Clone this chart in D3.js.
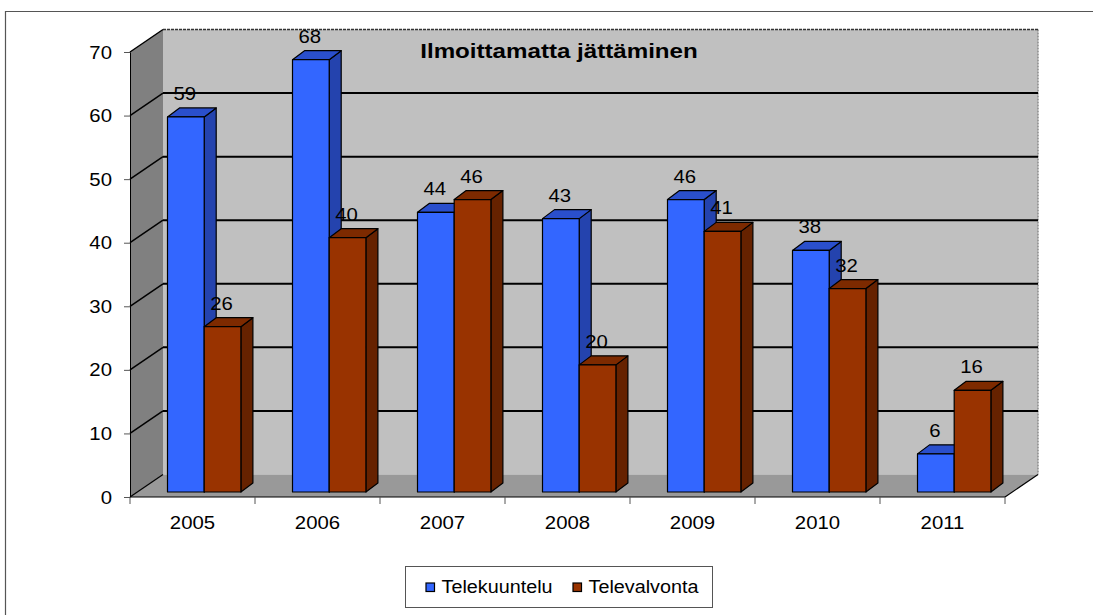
<!DOCTYPE html>
<html><head><meta charset="utf-8">
<script src="https://cdn.jsdelivr.net/npm/d3@7"></script>
<style>body{margin:0;background:#fff}svg{display:block}text{font-family:"Liberation Sans",Arial,sans-serif;}</style>
</head><body>
<svg id="c" width="1093" height="615"></svg>
<script>
const years = ["2005","2006","2007","2008","2009","2010","2011"];
const seriesNames = ["Telekuuntelu","Televalvonta"];
const telekuuntelu = [59,68,44,43,46,38,6];
const televalvonta = [26,40,46,20,41,32,16];
const yTicks = [0,10,20,30,40,50,60,70];
const title = "Ilmoittamatta jättäminen";

const svg = d3.select("#c");
const colors = {
  Telekuuntelu:{front:"#3366FF", side:"#2443AE", top:"#2A4FCC"},
  Televalvonta:{front:"#993300", side:"#662200", top:"#7D2A00"}
};
const DX = 33, DY = -22.5;         // wall depth
const ZX0 = 7.5, ZY0 = -5;         // bar front offset in depth
const BDX = 12, BDY = -9;          // bar depth
const SX = 1.1;

const x = d3.scaleBand().domain(years).range([130,1005]).padding(0);
const y = d3.scaleLinear().domain([0,70]).range([497,52]);
const inner = d3.scaleBand().domain(seriesNames).range([30,103.4]).padding(0);

function txt(g, tx, ty, s, opts={}){
  const t = g.append("text").attr("transform",`translate(${tx},${ty}) scale(${opts.sx||SX},1)`)
    .attr("font-size", opts.size||18.5).attr("fill","#000")
    .attr("text-anchor", opts.anchor||"middle").text(s);
  if(opts.bold) t.attr("font-weight","bold");
  return t;
}

// frame
svg.append("path").attr("d","M5.5,615 L5.5,11.5 L1093,11.5").attr("fill","none").attr("stroke","#555").attr("stroke-width",1.2);

const x0 = x.range()[0], x1 = x.range()[1], yb = y(0), yt = y(70);
// back wall
svg.append("polygon").attr("points",[[x0+DX,yb+DY],[x1+DX,yb+DY],[x1+DX,yt+DY],[x0+DX,yt+DY]].join(" "))
  .attr("fill","#C0C0C0");
// left wall
svg.append("polygon").attr("points",[[x0,yb],[x0+DX,yb+DY],[x0+DX,yt+DY],[x0,yt]].join(" "))
  .attr("fill","#808080");
// floor
svg.append("polygon").attr("points",[[x0,yb],[x1,yb],[x1+DX,yb+DY],[x0+DX,yb+DY]].join(" "))
  .attr("fill","#999999");
// right edge of back wall
svg.append("line").attr("x1",x1+DX).attr("x2",x1+DX).attr("y1",yt+DY).attr("y2",yb+DY)
  .attr("stroke","#8a8a8a").attr("stroke-width",1.5).attr("stroke-dasharray","2,1");
// floor edges
svg.append("line").attr("x1",x1).attr("y1",yb).attr("x2",x1+DX).attr("y2",yb+DY).attr("stroke","#000").attr("stroke-width",1.2);
svg.append("line").attr("x1",x0).attr("y1",yb).attr("x2",x0+DX).attr("y2",yb+DY).attr("stroke","#000").attr("stroke-width",1.2);

// gridlines
yTicks.filter(v=>v>0).forEach(v=>{
  svg.append("line").attr("x1",x0+DX).attr("x2",x1+DX).attr("y1",y(v)+DY).attr("y2",y(v)+DY)
    .attr("stroke", v===70 ? "#333" : "#000").attr("stroke-width", v===70?1.5:2)
    .attr("stroke-dasharray", v===70 ? "3,1" : null);
  svg.append("line").attr("x1",x0).attr("x2",x0+DX).attr("y1",y(v)).attr("y2",y(v)+DY)
    .attr("stroke","#000").attr("stroke-width",1.5);
});

// axes
const yAxis = svg.append("g").attr("transform",`translate(${x0},0)`)
  .call(d3.axisLeft(y).tickValues(yTicks).tickSize(6).tickPadding(12).tickSizeOuter(0));
yAxis.select(".domain").attr("stroke","#000");
yAxis.selectAll(".tick line").attr("stroke","#555");
yAxis.selectAll(".tick text").remove();
yTicks.forEach(v=>{ txt(svg, x0-18, y(v)+6.5, String(v), {anchor:"end"}); });

svg.append("line").attr("x1",x0).attr("x2",x1).attr("y1",yb).attr("y2",yb).attr("stroke","#000").attr("stroke-width",1.2);
const bounds = years.map(d=>x(d)).concat([x1]);
bounds.forEach(b=>{
  svg.append("line").attr("x1",b).attr("x2",b).attr("y1",yb).attr("y2",yb+7).attr("stroke","#555");
});
years.forEach(d=>{ txt(svg, x(d)+x.bandwidth()/2, 529, d); });

// bars
const data = [];
years.forEach((yr,i)=>{
  data.push({yr, s:"Telekuuntelu", v:telekuuntelu[i]});
  data.push({yr, s:"Televalvonta", v:televalvonta[i]});
});
const gb = svg.append("g");
data.forEach(d=>{
  const c = colors[d.s];
  const bx0 = x(d.yr)+inner(d.s)+ZX0, bx1 = bx0+inner.bandwidth();
  const top = y(d.v)+ZY0, bot = y(0)+ZY0;
  const g = gb.append("g").attr("stroke","#000").attr("stroke-width",1.2).attr("stroke-linejoin","round");
  g.append("polygon").attr("points",[[bx1,top],[bx1+BDX,top+BDY],[bx1+BDX,bot+BDY],[bx1,bot]].join(" ")).attr("fill",c.side);
  g.append("polygon").attr("points",[[bx0,top],[bx1,top],[bx1+BDX,top+BDY],[bx0+BDX,top+BDY]].join(" ")).attr("fill",c.top);
  g.append("rect").attr("x",bx0).attr("y",top).attr("width",bx1-bx0).attr("height",bot-top).attr("fill",c.front);
});
data.forEach(d=>{
  const bx0 = x(d.yr)+inner(d.s)+ZX0, bx1 = bx0+inner.bandwidth();
  const top = y(d.v)+ZY0;
  txt(svg, (bx0+bx1)/2 - 1, top+BDY-8, String(d.v));
});

// title
txt(svg, 559, 58, title, {size:21, bold:true, sx:1.15});

// legend
const lg = svg.append("g");
lg.append("rect").attr("x",405.5).attr("y",566.5).attr("width",307).attr("height",41).attr("fill","#fff").attr("stroke","#555");
const legX = [426, 573];
seriesNames.forEach((s,i)=>{
  lg.append("rect").attr("x",legX[i]).attr("y",583).attr("width",8.5).attr("height",8.5)
    .attr("fill",colors[s].front).attr("stroke","#000").attr("stroke-width",1.2);
  txt(lg, legX[i]+15.5, 593, s, {anchor:"start", size:18.5, sx:1.07});
});
</script>
</body></html>
